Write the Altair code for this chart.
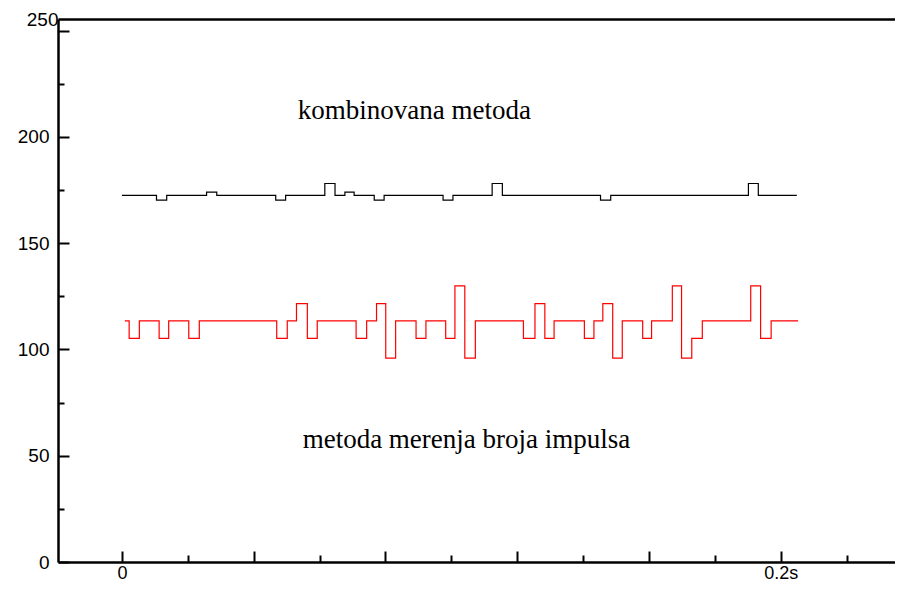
import altair as alt
import pandas as pd

# ---- data ----
# step series: time (s) where a level starts, and the level that starts there
red_t = [0.0009, 0.0022, 0.0053, 0.0113, 0.0142, 0.0203, 0.0235, 0.0470, 0.0502, 0.0530,
         0.0563, 0.0593, 0.0711, 0.0743, 0.0773, 0.0801, 0.0831, 0.0893, 0.0923, 0.0983,
         0.1011, 0.1041, 0.1073, 0.1219, 0.1254, 0.1284, 0.1312, 0.1404, 0.1433, 0.1460,
         0.1490, 0.1519, 0.1581, 0.1608, 0.1671, 0.1699, 0.1730, 0.1762, 0.1909, 0.1939,
         0.1971, 0.2053]
red_v = [113.5, 105.2, 113.5, 105.2, 113.5, 105.2, 113.5, 105.2, 113.5, 121.6,
         105.2, 113.5, 105.2, 113.5, 121.6, 95.9, 113.5, 105.2, 113.5, 105.2,
         129.9, 95.9, 113.5, 105.2, 121.6, 105.2, 113.5, 105.2, 113.5, 121.6,
         95.9, 113.5, 105.2, 113.5, 129.9, 95.9, 105.2, 113.5, 129.9, 105.2,
         113.5, 113.5]

black_t = [0.0, 0.0105, 0.0136, 0.0257, 0.0288, 0.0467, 0.0497, 0.0616, 0.0647, 0.0677,
           0.0705, 0.0766, 0.0796, 0.0975, 0.1005, 0.1124, 0.1155, 0.1453, 0.1484, 0.1902,
           0.1932, 0.2049]
black_v = [172.5, 170.3, 172.5, 174.0, 172.5, 170.3, 172.5, 178.1, 172.5, 174.0,
           172.5, 170.3, 172.5, 170.3, 172.5, 178.1, 172.5, 170.3, 172.5, 178.1,
           172.5, 172.5]

annot_text = ["kombinovana metoda", "metoda merenja broja impulsa"]
annot_t = [0.0888, 0.1046]
annot_v = [212.0, 57.5]

y_label_values = [0, 50, 100, 150, 200, 255.5]   # "250" is printed at the top frame
y_major = [0, 50, 100, 150, 200, 250]
y_minor = [25, 75, 125, 175, 225]
x_major = [0, 0.04, 0.08, 0.12, 0.16, 0.2]
x_minor = [0.02, 0.06, 0.1, 0.14, 0.18, 0.22]
x_label_values = [0, 0.2]

x_domain = [-0.0194, 0.2347]
y_domain = [0, 255.5]

# ---- tables ----
rows = []
for t, v in zip(red_t, red_v):
    rows.append({"series": "impulsi", "t": t, "v": v})
for t, v in zip(black_t, black_v):
    rows.append({"series": "kombinovana", "t": t, "v": v})
df = pd.DataFrame(rows)
ann = pd.DataFrame({"text": annot_text, "t": annot_t, "v": annot_v})

W, H = 837, 543
xs = alt.Scale(domain=x_domain, nice=False, zero=False)
ys = alt.Scale(domain=y_domain, nice=False, zero=False)
FONT = "Liberation Sans"

lines = alt.Chart(df).mark_line(interpolate="step-after", strokeWidth=1.2).encode(
    x=alt.X("t:Q", scale=xs, axis=alt.Axis(
        orient="bottom", values=x_label_values, title=None, grid=False, ticks=False,
        tickSize=0, labelExpr="datum.value < 0.1 ? '0' : '0.2s'",
        domainColor="black", domainWidth=2.5, labelColor="black",
        labelFont=FONT, labelFontSize=18, labelPadding=2)),
    y=alt.Y("v:Q", scale=ys, axis=alt.Axis(
        orient="left", values=y_label_values, title=None, grid=False, ticks=False,
        tickSize=0, labelExpr="datum.value > 250 ? '250' : datum.label",
        labelPadding={"condition": {"test": "datum.value > 250", "value": 0}, "value": 9},
        domainColor="black", domainWidth=2.5, labelColor="black",
        labelFont=FONT, labelFontSize=19)),
    color=alt.Color("series:N", scale=alt.Scale(domain=["impulsi", "kombinovana"],
                                                range=["#ff0000", "#000000"]), legend=None),
    detail="series:N",
)

tick_x_test = "abs(datum.value / 0.04 - round(datum.value / 0.04)) < 0.001"
tick_y_test = "datum.value % 50 == 0"

ticks = alt.Chart(df).mark_point(opacity=0).encode(
    x=alt.X("t:Q", scale=xs, axis=alt.Axis(
        orient="top", offset=-H, values=x_major + x_minor, labels=False, domain=False,
        grid=False, title=None, tickColor="black", tickWidth=2,
        tickSize={"condition": {"test": tick_x_test, "value": 11}, "value": 7})),
    y=alt.Y("v:Q", scale=ys, axis=alt.Axis(
        orient="right", offset=-W, values=y_major + y_minor, labels=False, domain=False,
        grid=False, title=None, tickColor="black", tickWidth=2,
        tickSize={"condition": {"test": tick_y_test, "value": 11}, "value": 6})),
)

frame_top = alt.Chart(df).mark_point(opacity=0).encode(
    x=alt.X("t:Q", scale=xs, axis=alt.Axis(
        orient="top", labels=False, ticks=False, grid=False, title=None,
        domainColor="black", domainWidth=2.5)),
    y=alt.Y("v:Q", scale=ys, axis=None),
)

texts = alt.Chart(ann).mark_text(font="Liberation Serif", fontSize=27, color="black",
                                 align="center", baseline="middle").encode(
    x=alt.X("t:Q", scale=xs, axis=None),
    y=alt.Y("v:Q", scale=ys, axis=None),
    text="text:N",
)

chart = alt.layer(lines, ticks, frame_top, texts).resolve_axis(
    x="independent", y="independent"
).properties(
    width=W, height=H,
    autosize=alt.AutoSizeParams(type="none"),
    padding={"left": 50, "top": 11, "right": 0, "bottom": 21},
    background="white",
).configure_view(stroke=None)

chart.save("out.html", embed_options={"renderer": "svg", "actions": False})
